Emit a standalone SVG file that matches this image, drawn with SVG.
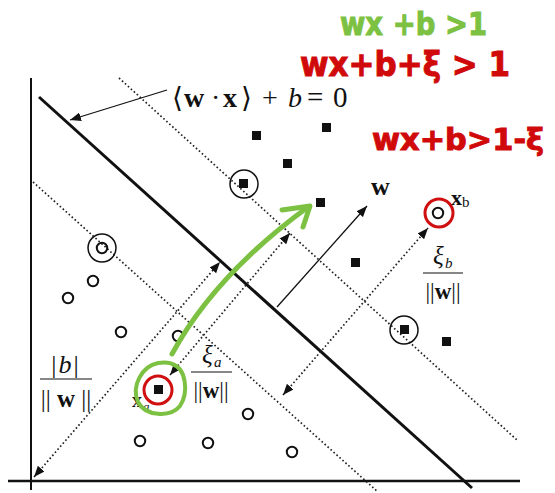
<svg xmlns="http://www.w3.org/2000/svg" width="555" height="493" viewBox="0 0 555 493">
<defs>
<marker id="ah" viewBox="0 0 10 8" refX="10" refY="4" markerWidth="11" markerHeight="9" markerUnits="userSpaceOnUse" orient="auto-start-reverse"><path d="M0,0 L10,4 L0,8 z" fill="#111"/></marker>
<style>
.ax{stroke:#111;stroke-width:2;fill:none}
.hp{stroke:#111;stroke-width:3;fill:none}
.dot{stroke:#222;stroke-width:1.7;stroke-dasharray:1.6 2.4;fill:none}
.arr{stroke:#111;stroke-width:1.3;fill:none}
.sq{fill:#111}
.oc{fill:none;stroke:#111;stroke-width:2}
.ring{fill:none;stroke:#111;stroke-width:1.5}
.red{fill:none;stroke:#d01010;stroke-width:3}
.m{font-family:"Liberation Serif","DejaVu Serif",serif;fill:#111}
.b{font-weight:bold}
.i{font-style:italic}
.hw{font-family:"DejaVu Sans",sans-serif;font-weight:bold}
.g{fill:#7cc142;stroke:#7cc142;stroke-width:1}
.r{fill:#d00a0a;stroke:#d00a0a;stroke-width:1}
</style>
</defs>
<rect width="555" height="493" fill="#fff"/>

<g id="axes">
<line class="ax" x1="31" y1="78" x2="31" y2="490"/>
<line class="ax" x1="8" y1="481" x2="520" y2="481" style="stroke-width:2.4"/>
</g>

<g id="connectors">
<line class="hp" x1="39" y1="97" x2="472" y2="488"/>
<line class="dot" x1="119" y1="78" x2="517" y2="440"/>
<line class="dot" x1="33" y1="182" x2="378" y2="492"/>
<line class="arr" x1="167" y1="90" x2="70" y2="120" marker-end="url(#ah)"/>
<line class="arr" x1="277" y1="307" x2="367" y2="206" marker-end="url(#ah)"/>
<line class="dot" x1="34" y1="477" x2="220" y2="262" marker-start="url(#ah)" marker-end="url(#ah)"/>
<line class="dot" x1="170" y1="375" x2="290" y2="233" marker-start="url(#ah)" marker-end="url(#ah)"/>
<line class="dot" x1="283" y1="395" x2="428" y2="228" marker-start="url(#ah)" marker-end="url(#ah)"/>
</g>

<g id="squares">
<rect class="sq" x="252" y="131" width="9" height="9"/>
<rect class="sq" x="322" y="123" width="9" height="9"/>
<rect class="sq" x="283" y="159" width="9" height="9"/>
<rect class="sq" x="316" y="198" width="9" height="9"/>
<rect class="sq" x="351" y="258" width="9" height="9"/>
<rect class="sq" x="442" y="337" width="9" height="9"/>
</g>
<g id="sv-square-1"><rect class="sq" x="239" y="179" width="9" height="9"/><circle class="ring" cx="244" cy="184" r="14"/></g>
<g id="sv-square-2"><rect class="sq" x="400" y="325" width="9" height="9"/><circle class="ring" cx="404" cy="330" r="14"/></g>

<g id="circles">
<circle class="oc" cx="93" cy="281" r="5.2"/>
<circle class="oc" cx="68" cy="298" r="5.2"/>
<circle class="oc" cx="121" cy="332" r="5.2"/>
<circle class="oc" cx="178" cy="336" r="5.2"/>
<circle class="oc" cx="248" cy="414" r="5.2"/>
<circle class="oc" cx="140" cy="441" r="5.2"/>
<circle class="oc" cx="208" cy="443" r="5.2"/>
<circle class="oc" cx="292" cy="452" r="5.2"/>
</g>
<g id="sv-circle"><circle class="oc" cx="102" cy="248" r="5.2"/><circle class="ring" cx="102" cy="248" r="14"/></g>

<g id="xa">
<text class="m b" x="132" y="407" font-size="20">x</text><text class="m i" x="143" y="411" font-size="13">a</text>
<rect class="sq" x="154" y="385" width="9" height="9"/>
<circle class="red" cx="158" cy="390" r="14"/>
</g>
<g id="xb">
<circle class="oc" cx="438" cy="213" r="5.2"/>
<circle class="red" cx="439" cy="213" r="14"/>
<text class="m b" x="451" y="205" font-size="22">x</text><text class="m" x="462" y="207" font-size="15">b</text>
</g>

<g id="labels">
<text class="m" x="172" y="107" font-size="28">⟨</text>
<text class="m b" x="184" y="107" font-size="28">w</text>
<text class="m" x="211" y="107" font-size="28">·</text>
<text class="m b" x="223" y="107" font-size="28">x</text>
<text class="m" x="241" y="107" font-size="28">⟩</text>
<text class="m" x="262" y="107" font-size="28">+</text>
<text class="m i" x="288" y="107" font-size="28">b</text>
<text class="m" x="307" y="107" font-size="29">=</text>
<text class="m" x="333" y="107" font-size="29">0</text>
<text class="m b" x="371" y="195" font-size="26">w</text>

<text class="m" x="66" y="373" font-size="26" text-anchor="middle" letter-spacing="2">|<tspan class="i">b</tspan>|</text>
<line x1="40" y1="379" x2="92" y2="379" stroke="#111" stroke-width="1.2"/>
<text class="m" x="66" y="407" font-size="25" text-anchor="middle">|| <tspan class="b">w</tspan> ||</text>

<text class="m i" x="202" y="363" font-size="25">ξ</text><text class="m i" x="214" y="367" font-size="15">a</text>
<line x1="191" y1="372" x2="232" y2="372" stroke="#111" stroke-width="1.2"/>
<text class="m" x="211" y="398" font-size="23" text-anchor="middle">||<tspan class="b">w</tspan>||</text>

<text class="m i" x="433" y="264" font-size="25">ξ</text><text class="m i" x="445" y="268" font-size="15">b</text>
<line x1="423" y1="273" x2="463" y2="273" stroke="#111" stroke-width="1.2"/>
<text class="m" x="443" y="299" font-size="23" text-anchor="middle">||<tspan class="b">w</tspan>||</text>
</g>

<g id="annotations">
<path d="M172,354 Q215,275 308,207" fill="none" stroke="#7cc142" stroke-width="5" stroke-linecap="round"/>
<path d="M282,210 L310,206 L303,227" fill="none" stroke="#7cc142" stroke-width="5" stroke-linecap="round" stroke-linejoin="round"/>
<path d="M172,364 C186,368 189,392 180,406 C170,418 145,416 138,402 C131,386 142,366 158,363 C165,362 170,362 174,365" fill="none" stroke="#7cc142" stroke-width="4" stroke-linecap="round"/>
<text class="hw g" x="340" y="35" font-size="32" textLength="147" lengthAdjust="spacingAndGlyphs">wx +b &gt;1</text>
<text class="hw r" x="300" y="76" font-size="34" textLength="210" lengthAdjust="spacingAndGlyphs">wx+b+ξ &gt; 1</text>
<text class="hw r" x="372" y="150" font-size="30" textLength="172" lengthAdjust="spacingAndGlyphs">wx+b&gt;1-ξ</text>
</g>
</svg>
